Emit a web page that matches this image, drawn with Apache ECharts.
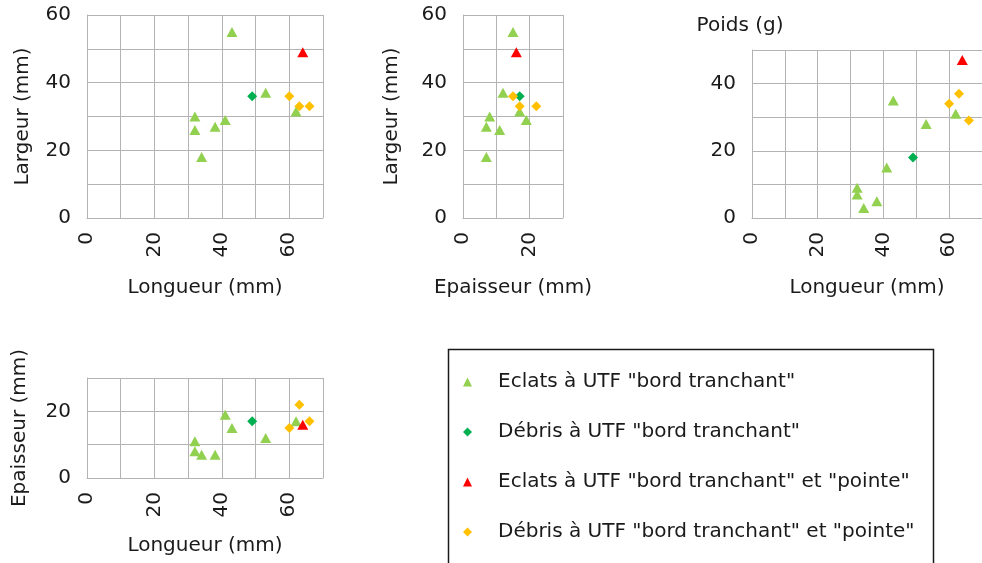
<!DOCTYPE html>
<html>
<head>
<meta charset="utf-8">
<script src="https://cdn.jsdelivr.net/npm/echarts@6/dist/echarts.min.js"></script>
<style>html,body{margin:0;padding:0;background:#fff}#c{width:982px;height:563px}</style>
</head>
<body>
<div id="c"></div>
<script>
// Series names
const seriesNames = [
  'Eclats à UTF "bord tranchant"',
  'Débris à UTF "bord tranchant"',
  'Eclats à UTF "bord tranchant" et "pointe"',
  'Débris à UTF "bord tranchant" et "pointe"'
];
// Eclats à UTF "bord tranchant"
const eclatsBT_longueur  = [32, 32, 34, 38, 41, 43, 53, 62];
const eclatsBT_largeur   = [30, 26, 18, 27, 29, 55, 37, 31.5];
const eclatsBT_epaisseur = [8, 11, 7, 7, 19, 15, 12, 17];
const eclatsBT_poids     = [9, 7, 3, 5, 15, 35, 28, 31];
// Débris à UTF "bord tranchant"
const debrisBT_longueur  = [49];
const debrisBT_largeur   = [36];
const debrisBT_epaisseur = [17];
const debrisBT_poids     = [18];
// Eclats à UTF "bord tranchant" et "pointe"
const eclatsBTP_longueur  = [64];
const eclatsBTP_largeur   = [49];
const eclatsBTP_epaisseur = [16];
const eclatsBTP_poids     = [47];
// Débris à UTF "bord tranchant" et "pointe"
const debrisBTP_longueur  = [60, 63, 66];
const debrisBTP_largeur   = [36, 33, 33];
const debrisBTP_epaisseur = [15, 22, 17];
const debrisBTP_poids     = [34, 37, 29];

// Tick labels shown
const ticksLongueur = [0, 20, 40, 60];
const ticksEpaisseurX = [0, 20];
const ticksLargeur = [0, 20, 40, 60];
const ticksPoids = [0, 20, 40];
const ticksEpaisseurY = [0, 20];

const groups = [
  {L: eclatsBT_longueur, W: eclatsBT_largeur, E: eclatsBT_epaisseur, P: eclatsBT_poids, symbol: 'triangle', size: [11, 10], color: '#92D050'},
  {L: debrisBT_longueur, W: debrisBT_largeur, E: debrisBT_epaisseur, P: debrisBT_poids, symbol: 'diamond', size: 10, color: '#00B050'},
  {L: eclatsBTP_longueur, W: eclatsBTP_largeur, E: eclatsBTP_epaisseur, P: eclatsBTP_poids, symbol: 'triangle', size: [11, 10], color: '#FF0000'},
  {L: debrisBTP_longueur, W: debrisBTP_largeur, E: debrisBTP_epaisseur, P: debrisBTP_poids, symbol: 'diamond', size: 10, color: '#FFC000'}
];

const FONT = 'DejaVu Sans';
const TXT = '#1a1a1a';
const GRIDC = '#b3b3b3';

function zip(a, b) { return a.map((v, i) => [v, b[i]]); }

function xAxis(gridIndex, max, ticks, name, gap) {
  return {
    type: 'value', gridIndex, min: 0, max, interval: 10,
    name, nameLocation: 'middle', nameGap: gap,
    nameTextStyle: {fontFamily: FONT, fontSize: 20, color: TXT},
    axisLine: {show: true, lineStyle: {color: GRIDC, width: 1}},
    axisTick: {show: false},
    splitLine: {show: true, lineStyle: {color: GRIDC, width: 1}},
    axisLabel: {rotate: 90, margin: 14, fontFamily: FONT, fontSize: 20, color: TXT,
      formatter: v => ticks.includes(v) ? String(v) : ''}
  };
}
function yAxis(gridIndex, max, ticks, name, gap, extra) {
  return Object.assign({
    type: 'value', gridIndex, min: 0, max, interval: 10,
    name, nameLocation: 'middle', nameGap: gap, nameRotate: 90,
    nameTextStyle: {fontFamily: FONT, fontSize: 20, color: TXT},
    axisLine: {show: true, lineStyle: {color: GRIDC, width: 1}},
    axisTick: {show: false},
    splitLine: {show: true, lineStyle: {color: GRIDC, width: 1}},
    axisLabel: {margin: 16, fontFamily: FONT, fontSize: 20, color: TXT,
      formatter: v => ticks.includes(v) ? String(v) : ''}
  }, extra || {});
}

const series = [];
const panels = [
  {xk: 'L', yk: 'W'},
  {xk: 'E', yk: 'W'},
  {xk: 'L', yk: 'P'},
  {xk: 'L', yk: 'E'}
];
panels.forEach((p, pi) => {
  groups.forEach((g, gi) => {
    series.push({
      type: 'scatter', name: seriesNames[gi],
      xAxisIndex: pi, yAxisIndex: pi,
      symbol: g.symbol, symbolSize: g.size,
      itemStyle: {color: g.color, opacity: 1},
      data: zip(g[p.xk], g[p.yk]),
      silent: true, animation: false
    });
  });
});

const option = {
  animation: false,
  backgroundColor: '#ffffff',
  grid: [
    {left: 87, top: 15, width: 236, height: 203},
    {left: 463, top: 15, width: 100, height: 203},
    {left: 752, top: 50, width: 236, height: 168},
    {left: 87, top: 378, width: 236, height: 100}
  ],
  xAxis: [
    xAxis(0, 70, ticksLongueur, 'Longueur (mm)', 60),
    xAxis(1, 30, ticksEpaisseurX, 'Epaisseur (mm)', 60),
    xAxis(2, 70, ticksLongueur, 'Longueur (mm)', 60),
    xAxis(3, 70, ticksLongueur, 'Longueur (mm)', 58)
  ],
  yAxis: [
    yAxis(0, 60, ticksLargeur, 'Largeur (mm)', 54),
    yAxis(1, 60, ticksLargeur, 'Largeur (mm)', 61),
    yAxis(2, 50, ticksPoids, 'Poids (g)', 14, {nameLocation: 'end', nameRotate: 0,
      nameTextStyle: {fontFamily: FONT, fontSize: 20, color: TXT, align: 'center', padding: [0, 24, 0, 0]}}),
    yAxis(3, 30, ticksEpaisseurY, 'Epaisseur (mm)', 57)
  ],
  legend: {
    orient: 'vertical', left: 458, top: 365, padding: 5,
    itemWidth: 9, itemHeight: 9, itemGap: 26,
    data: seriesNames,
    textStyle: {fontFamily: FONT, fontSize: 20, color: TXT, lineHeight: 24, padding: [0, 0, 0, 21]},
    selectedMode: false
  },
  graphic: [
    {type: 'rect', left: 446, top: 347, shape: {width: 485, height: 218},
     style: {fill: 'none', stroke: '#1a1a1a', lineWidth: 1.5}, silent: true}
  ],
  series
};

const chart = echarts.init(document.getElementById('c'), null, {renderer: 'canvas'});
chart.setOption(option);
</script>
</body>
</html>
